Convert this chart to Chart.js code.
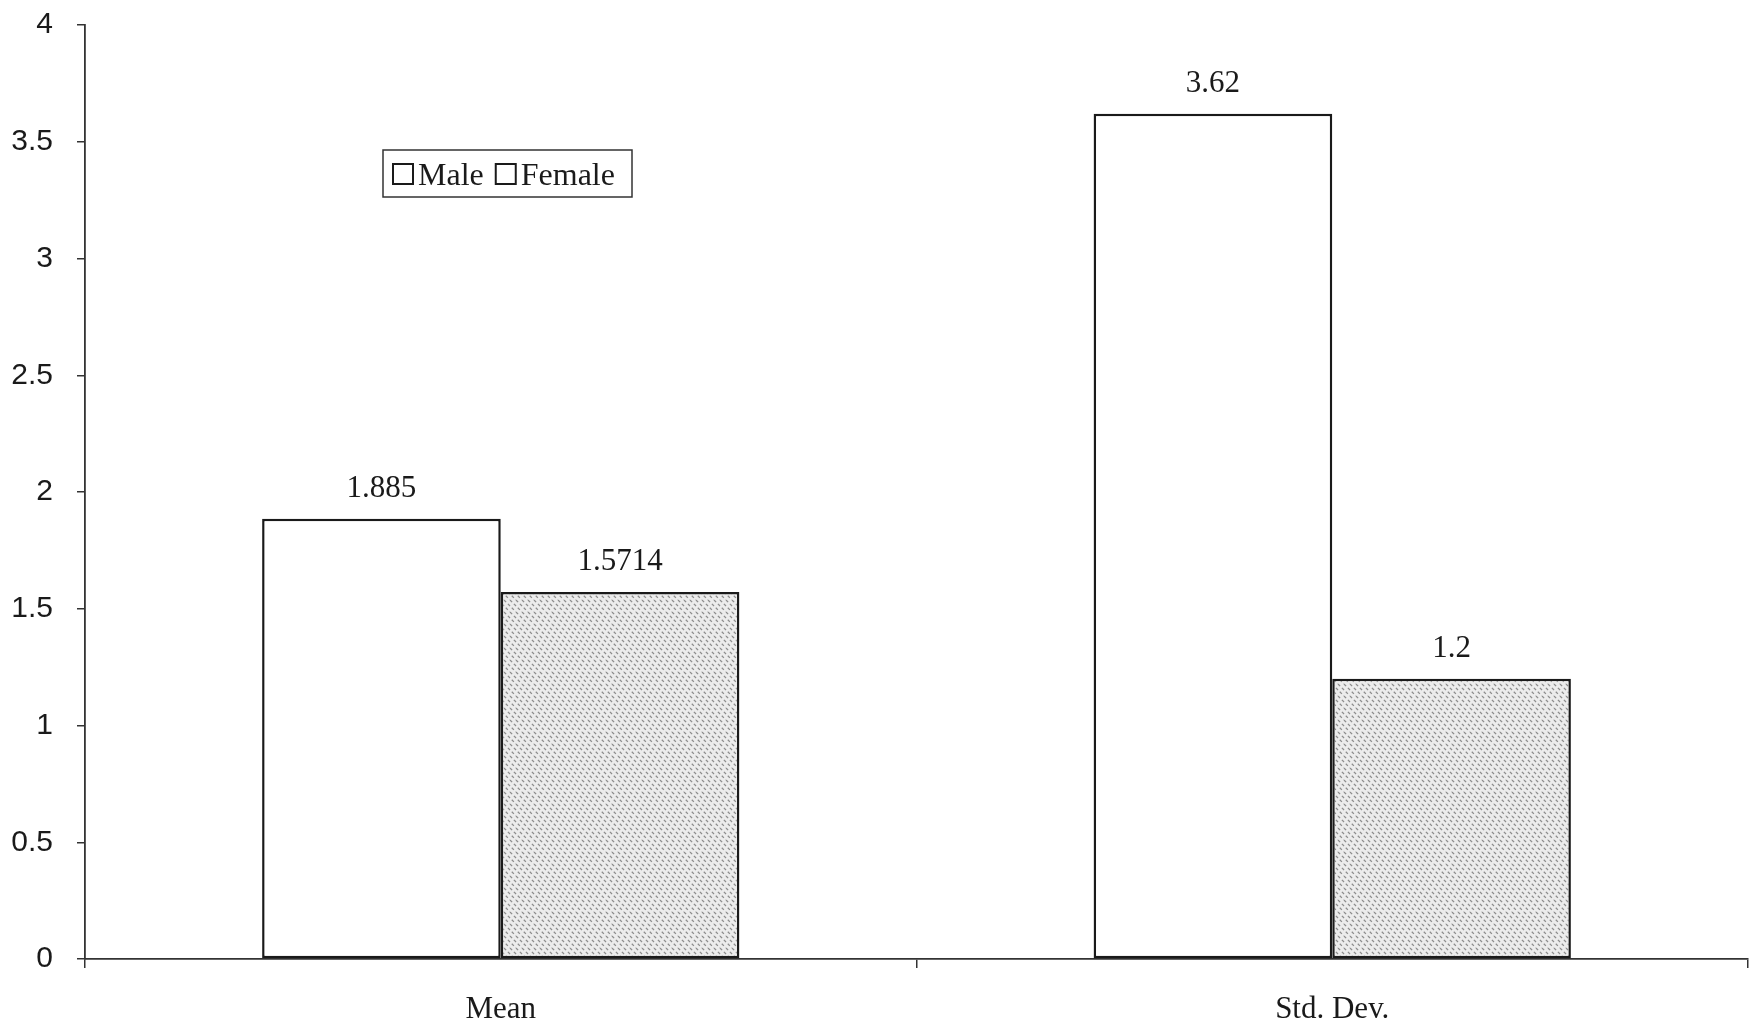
<!DOCTYPE html>
<html>
<head>
<meta charset="utf-8">
<script src="https://cdn.jsdelivr.net/npm/chart.js@4/dist/chart.umd.min.js"></script>
<style>
  html, body { margin: 0; padding: 0; background: #ffffff; }
  #wrap { width: 1750px; height: 1029px; }
</style>
</head>
<body>
<div id="wrap"><canvas id="c" width="1750" height="1029"></canvas></div>
<script>
// Categories, series and axis range
const categories = ['Mean', 'Std. Dev.'];
const seriesNames = ['Male', 'Female'];
const maleValues = [1.885, 3.62];
const femaleValues = [1.5714, 1.2];
const yMin = 0;
const yMax = 4;
const yStep = 0.5;

const SERIF = '"Liberation Serif", "Times New Roman", serif';
const SANS = '"Liberation Sans", Arial, sans-serif';
const INK = '#1a1a1a';

// Grainy diagonal hatch used for the Female bars
function makeHatch() {
  const s = 12;
  const p = document.createElement('canvas');
  p.width = s; p.height = s;
  const g = p.getContext('2d');
  g.fillStyle = '#ececec';
  g.fillRect(0, 0, s, s);
  g.strokeStyle = 'rgba(110,110,110,0.75)';
  g.lineWidth = 1.3;
  g.setLineDash([3, 2.5]);
  for (let o = -s; o <= s * 2; o += 6) {
    g.beginPath();
    g.moveTo(o, 0);
    g.lineTo(o + s, s);
    g.stroke();
  }
  return g.createPattern(p, 'repeat');
}

const ctx = document.getElementById('c').getContext('2d');
const hatch = makeHatch();

// Value printed above each bar
const valueLabels = {
  id: 'valueLabels',
  afterDatasetsDraw(chart) {
    const c = chart.ctx;
    c.save();
    c.font = '31px ' + SERIF;
    c.fillStyle = INK;
    c.textAlign = 'center';
    c.textBaseline = 'alphabetic';
    chart.data.datasets.forEach((ds, di) => {
      chart.getDatasetMeta(di).data.forEach((bar, i) => {
        c.fillText(String(ds.data[i]), bar.x, bar.y - 22);
      });
    });
    c.restore();
  }
};

// Boxed legend placed inside the plot area
const boxLegend = {
  id: 'boxLegend',
  afterDraw(chart) {
    const c = chart.ctx;
    c.save();
    const bx = 383, by = 150, bw = 249, bh = 47;
    c.fillStyle = '#ffffff';
    c.fillRect(bx, by, bw, bh);
    c.strokeStyle = '#333';
    c.lineWidth = 1.5;
    c.strokeRect(bx, by, bw, bh);
    c.font = '32px ' + SERIF;
    c.textBaseline = 'alphabetic';
    c.fillStyle = INK;
    let x = bx + 10;
    chart.data.datasets.forEach((ds) => {
      c.fillStyle = '#ffffff';
      c.fillRect(x, by + 14, 20, 20);
      c.strokeStyle = INK;
      c.lineWidth = 2;
      c.strokeRect(x, by + 14, 20, 20);
      c.fillStyle = INK;
      c.fillText(ds.label, x + 25, by + 35);
      x += 25 + c.measureText(ds.label).width + 12;
    });
    c.restore();
  }
};

new Chart(ctx, {
  type: 'bar',
  data: {
    labels: categories,
    datasets: [
      {
        label: seriesNames[0],
        data: maleValues,
        backgroundColor: '#ffffff',
        borderColor: INK,
        borderWidth: 2.5,
        borderSkipped: false
      },
      {
        label: seriesNames[1],
        data: femaleValues,
        backgroundColor: hatch,
        borderColor: INK,
        borderWidth: 2.5,
        borderSkipped: false
      }
    ]
  },
  options: {
    responsive: false,
    animation: false,
    layout: { padding: { top: 25, right: 2, left: 0, bottom: 0 } },
    plugins: {
      legend: { display: false },
      tooltip: { enabled: false }
    },
    datasets: {
      bar: { categoryPercentage: 0.574, barPercentage: 1.0 }
    },
    scales: {
      x: {
        offset: true,
        grid: {
          display: true,
          offset: true,
          drawOnChartArea: false,
          drawTicks: true,
          tickLength: 9,
          color: '#333',
          lineWidth: 1.5
        },
        border: { display: true, color: '#333', width: 1.8 },
        ticks: {
          font: { family: SERIF, size: 31 },
          color: INK,
          padding: 23,
          maxRotation: 0
        },
        afterFit(scale) { scale.height = 70; }
      },
      y: {
        min: yMin,
        max: yMax,
        grid: {
          display: true,
          drawOnChartArea: false,
          drawTicks: true,
          tickLength: 8,
          color: '#333',
          lineWidth: 1.5
        },
        border: { display: true, color: '#333', width: 1.8 },
        ticks: {
          stepSize: yStep,
          font: { family: SANS, size: 30 },
          color: INK,
          padding: 24,
          callback: (v) => String(v)
        },
        afterFit(scale) {
          scale.width = 85;
          scale.paddingTop = 0;
          scale.paddingBottom = 0;
        }
      }
    }
  },
  plugins: [valueLabels, boxLegend]
});
</script>
</body>
</html>
